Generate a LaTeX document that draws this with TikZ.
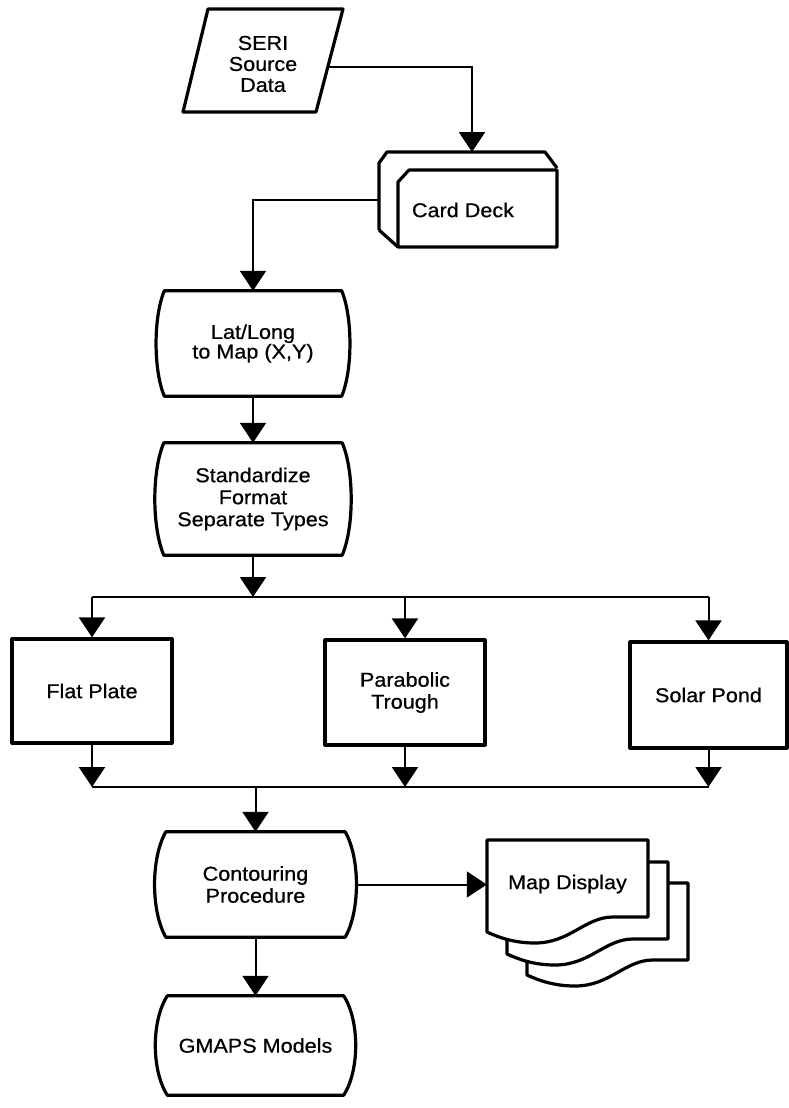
\documentclass[tikz,border=0pt]{standalone}
\usepackage{fontspec}
\setmainfont{Liberation Sans}[FakeStretch=1.08,FakeBold=0.6]
\usetikzlibrary{arrows.meta,calc}
\tikzset{
  shp/.style={line width=3.2pt, line join=round},
  conn/.style={line width=2pt},
  arr/.style={conn, -{Triangle[width=26pt,length=20pt]}},
  lbl/.style={font=\fontsize{20}{22}\selectfont, align=center, inner sep=0pt},
  rbox/.style={lbl, draw, shp, minimum width=#1},
}
\newcommand\bulgeshape[2]{%
  \draw[shp] (#1.north west) -- (#1.north east)
    .. controls ($(#1.north east)!0.25!(#1.south east)+(#2,0)$) and ($(#1.north east)!0.75!(#1.south east)+(#2,0)$) .. (#1.south east)
    -- (#1.south west)
    .. controls ($(#1.south west)!0.25!(#1.north west)-(#2,0)$) and ($(#1.south west)!0.75!(#1.north west)-(#2,0)$) .. (#1.north west) -- cycle;}
\newcommand\docpage[2]{%
  \draw[shp, fill=white, shift={(#1,#2)}] (487,840) -- (648,840) -- (648,917) -- (613,917)
    .. controls (585,917) and (570,943) .. (535,943)
    .. controls (515,943) and (500,938) .. (487,932) -- cycle;}
\begin{document}
\begin{tikzpicture}[x=1pt,y=-1pt]
\fill[white] (0,0) rectangle (789,1108);
\useasboundingbox (0,0) rectangle (789,1108);

% SERI source data (parallelogram)
\draw[shp] (208,9) -- (343,9) -- (316,112) -- (183,112) -- cycle;
\node[lbl, font=\fontsize{20}{21}\selectfont] (seri) at (263,64) {SERI\\Source\\Data};
\coordinate (seriout) at (328,67);

% Card deck
\draw[shp] (379,230) -- (379,163) -- (387,152) -- (545,152) -- (557,168);
\draw[shp] (379,230) -- (398,247);
\draw[shp] (398,182) -- (409,170) -- (557,170) -- (557,247) -- (398,247) -- cycle;
\node[lbl] (cd) at (463,210) {Card Deck};
\coordinate (cdtop) at (472,152);
\coordinate (cdleft) at (379,200);

% Lat/Long
\node[lbl, font=\fontsize{20}{18}\selectfont, minimum width=177pt, minimum height=105pt] (ll) at (253,343.5) {Lat/Long\\to Map (X,Y)};
\bulgeshape{ll}{11}

% Standardize
\node[lbl, minimum width=178pt, minimum height=112pt] (std) at (253,499) {Standardize\\Format\\Separate Types};
\bulgeshape{std}{12}

% three boxes
\node[rbox=160pt, minimum height=104pt] (fp) at (92,691) {Flat Plate};
\node[rbox=160pt, minimum height=105pt] (pt) at (405,692.5) {Parabolic\\Trough};
\node[rbox=157pt, minimum height=106pt] (sp) at (708.5,695) {Solar Pond};

% Contouring
\node[lbl, minimum width=179pt, minimum height=105pt] (cont) at (255.5,884.5) {Contouring\\Procedure};
\bulgeshape{cont}{15}

% GMAPS
\node[lbl, minimum width=176pt, minimum height=99pt] (gm) at (255.5,1045.5) {GMAPS Models};
\bulgeshape{gm}{16}

% Map display
\docpage{40}{43}
\docpage{20}{22}
\docpage{0}{0}
\node[lbl, minimum width=161pt, minimum height=92pt] (md) at (567.5,884) {Map Display};

% connectors
\draw[arr] (seriout) -| (cdtop);
\draw[arr] (cdleft) -| (ll.north);
\draw[arr] (ll.south) -- (std.north);
\coordinate (bus1) at (253,597);
\draw[arr] (std.south) -- (std.south |- bus1);
\draw[conn] (bus1 -| fp.north) -- (bus1 -| sp.north);
\draw[arr] (bus1 -| fp.north) -- (fp.north);
\draw[arr] (bus1 -| pt.north) -- (pt.north);
\draw[arr] (bus1 -| sp.north) -- (sp.north);
\coordinate (bus2) at (255.5,787);
\draw[arr] (fp.south) -- (fp.south |- bus2);
\draw[arr] (pt.south) -- (pt.south |- bus2);
\draw[arr] (sp.south) -- (sp.south |- bus2);
\draw[conn] (fp.south |- bus2) -- (sp.south |- bus2);
\draw[arr] (bus2 -| cont.north) -- (cont.north);
\draw[arr] (cont.south) -- (gm.north);
\draw[arr] ([xshift=11pt]cont.east) -- (cont.east -| md.west);
\end{tikzpicture}
\end{document}
